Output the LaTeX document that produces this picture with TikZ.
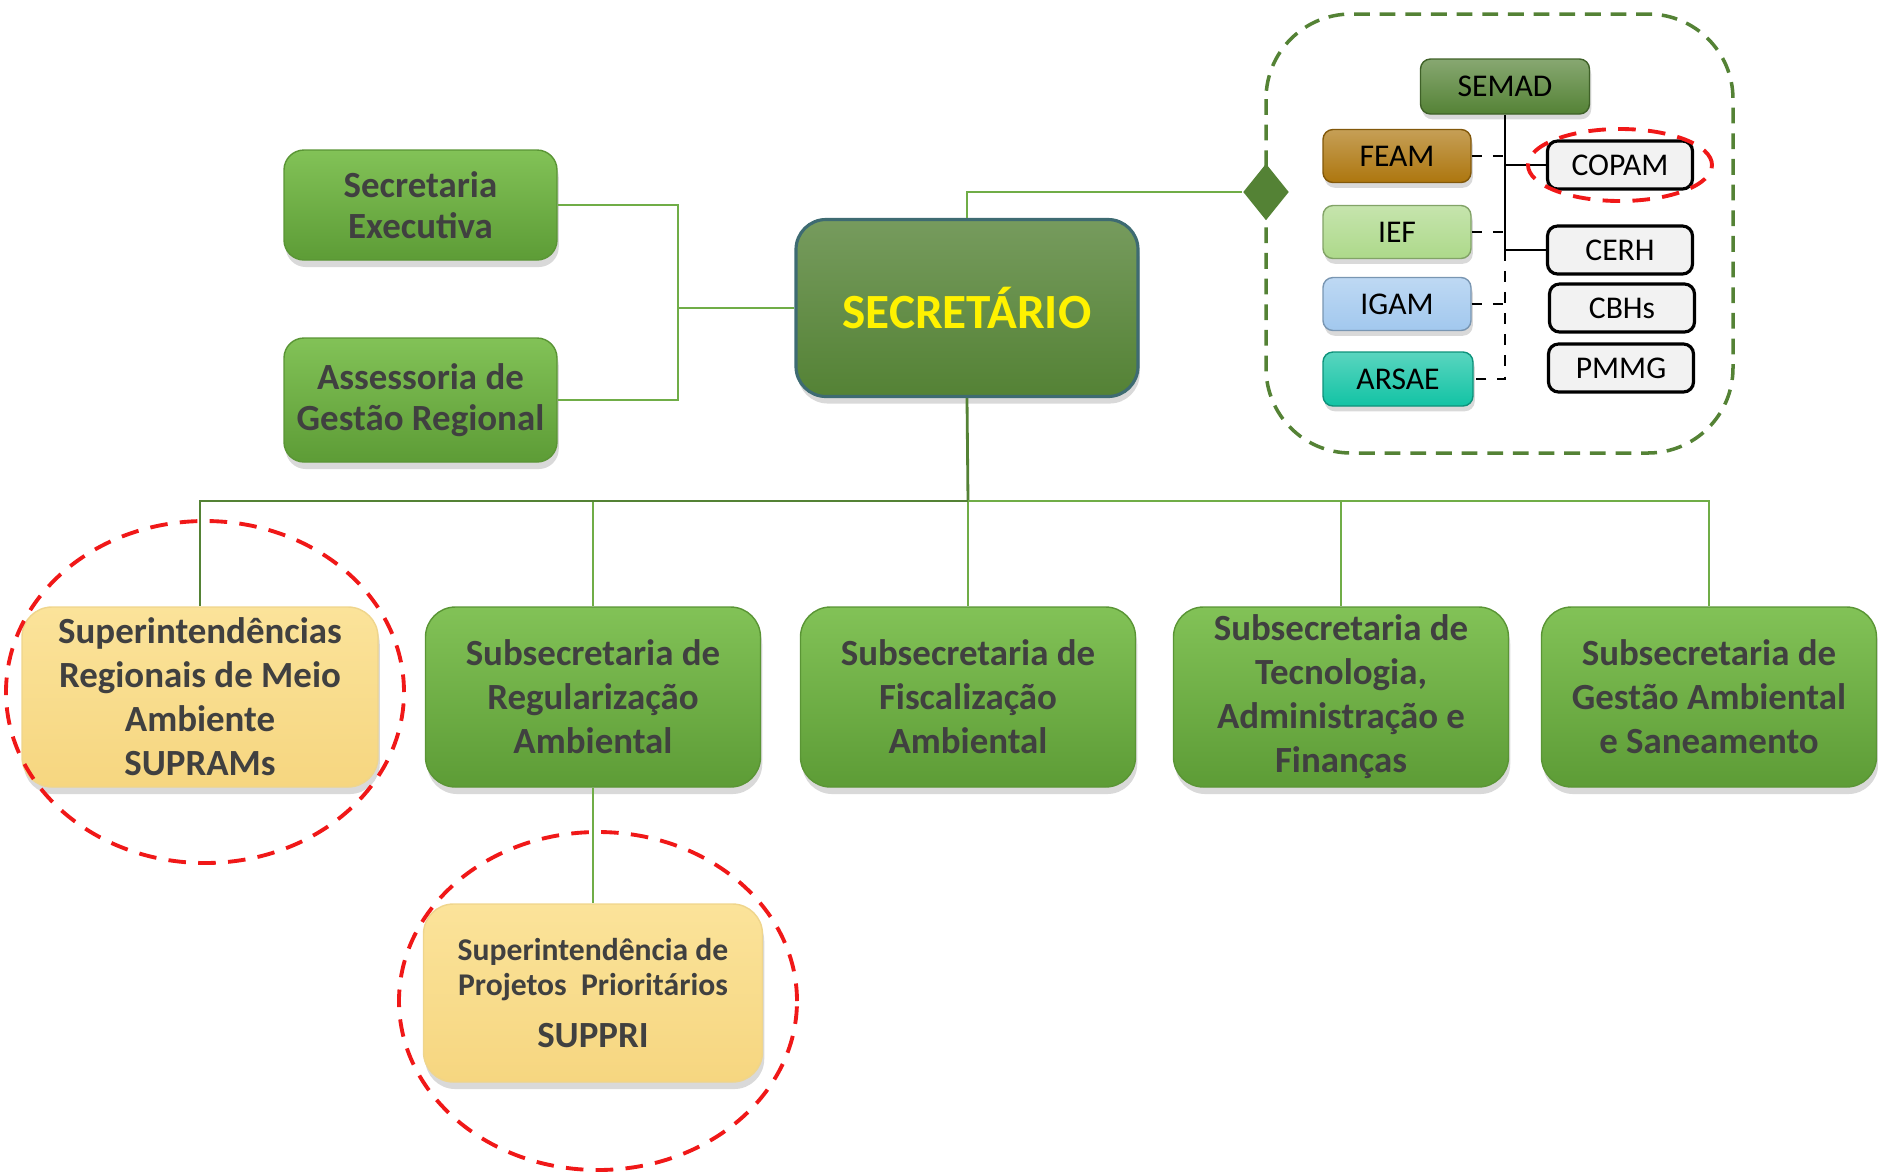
\documentclass[tikz,border=0pt]{standalone}
\usepackage{fontspec}
\setmainfont{Carlito}
\usepackage{tikz}
\usetikzlibrary{shapes.geometric,shadows}

\definecolor{gTop}{HTML}{82C257}
\definecolor{gBot}{HTML}{5D9C36}
\definecolor{gEdge}{HTML}{5A9535}
\definecolor{gDark}{HTML}{548235}
\definecolor{gLine}{HTML}{70AD47}
\definecolor{txtGray}{HTML}{404040}
\definecolor{yTop}{HTML}{FBE39A}
\definecolor{yBot}{HTML}{F6D680}
\definecolor{yEdge}{HTML}{EFD58C}
\definecolor{redDash}{HTML}{F01818}
\definecolor{feamCol}{HTML}{AD760E}
\definecolor{iefCol}{HTML}{ADD98A}
\definecolor{igamCol}{HTML}{A2C8EE}
\definecolor{arsaeCol}{HTML}{12C3A4}
\definecolor{bossEdge}{HTML}{3E6B72}

\begin{document}
\begin{tikzpicture}
        % 样式
        [GBox/.style={rectangle, rounded corners=3mm, top color=gTop, bottom color=gBot, draw=gEdge, drop shadow={opacity=0.3, shadow xshift=0.5pt, shadow yshift=-2pt}, text=txtGray, align=center, inner sep=0pt, minimum width=3.35cm, minimum height=1.8cm, font=\fontsize{10.5}{12.5}\selectfont\bfseries},
        SideBox/.style={GBox, rounded corners=2mm, minimum width=2.73cm, minimum height=1.10cm, font=\fontsize{10.5}{11.5}\selectfont\bfseries},
        YBox/.style={GBox, top color=yTop, bottom color=yBot, draw=yEdge},
        BossBox/.style={rectangle, rounded corners=3mm, top color=gDark!80!white, bottom color=gDark, draw=bossEdge, line width=0.9pt, drop shadow={opacity=0.3, shadow xshift=0.5pt, shadow yshift=-2pt}, text=yellow, inner sep=0pt, minimum width=3.42cm, minimum height=1.77cm, font=\fontsize{14}{16}\selectfont\bfseries},
        OrgBox/.style={rectangle, rounded corners=1mm, draw=#1!75!black, top color=#1!70!white, bottom color=#1, drop shadow={opacity=0.3, shadow xshift=0.5pt, shadow yshift=-1.5pt}, inner sep=0pt, minimum width=1.48cm, minimum height=0.53cm, font=\fontsize{9}{10.8}\selectfont},
        CouncilBox/.style={rectangle, rounded corners=1mm, draw=black, fill=black!5, line width=0.9pt, inner sep=0pt, minimum width=1.45cm, minimum height=0.48cm, font=\fontsize{9}{10.8}\selectfont},
        LinkLine/.style={draw=gLine, line width=0.7pt},
        BusLine/.style={draw=gDark, line width=0.8pt},
        RedRing/.style={draw=redDash, line width=1.1pt, dash pattern=on 5pt off 3.5pt},
        TieLine/.style={draw=black, line width=0.8pt}]

        \useasboundingbox (0,0) rectangle (18.78,-11.74);

        % 虚线框(SEMAD 系统)
        \draw[gDark, line width=1pt, dash pattern=on 4.5pt off 2.8pt, rounded corners=8.5mm]
            (12.66,-0.14) rectangle (17.33,-4.53);

        % 上层结点
        \node[SideBox] (secexec) at (4.205,-2.05) {Secretaria\\Executiva};
        \node[SideBox, minimum height=1.24cm] (assess) at (4.205,-4.00) {Assessoria de\\Gestão Regional};
        \node[BossBox] (boss) at (9.67,-3.08) {SECRETÁRIO};
        \node[diamond, fill=gDark, inner sep=0pt, minimum width=0.46cm, minimum height=0.57cm] (diam) at (12.66,-1.92) {};

        % SEMAD 及附属机构
        \node[OrgBox=gDark, minimum width=1.69cm, minimum height=0.55cm] (semad) at (15.05,-0.865) {SEMAD};
        \node[OrgBox=feamCol] (feam) at (13.97,-1.56) {FEAM};
        \node[OrgBox=iefCol] (ief) at (13.97,-2.32) {IEF};
        \node[OrgBox=igamCol] (igam) at (13.97,-3.04) {IGAM};
        \node[OrgBox=arsaeCol, minimum width=1.50cm, minimum height=0.54cm] (arsae) at (13.98,-3.79) {ARSAE};

        % 委员会
        \node[CouncilBox] (copam) at (16.20,-1.65) {COPAM};
        \node[CouncilBox] (cerh) at (16.20,-2.50) {CERH};
        \node[CouncilBox] (cbhs) at (16.22,-3.08) {CBHs};
        \node[CouncilBox] (pmmg) at (16.21,-3.68) {PMMG};

        % 下层结点
        \node[YBox, minimum width=3.56cm] (supram) at (2.00,-6.97) {Superintendências\\Regionais de Meio\\Ambiente\\SUPRAMs};
        \node[GBox] (reg) at (5.93,-6.97) {Subsecretaria de\\Regularização\\Ambiental};
        \node[GBox] (fisc) at (9.68,-6.97) {Subsecretaria de\\Fiscalização\\Ambiental};
        \node[GBox] (tec) at (13.41,-6.97) {Subsecretaria de\\Tecnologia,\\Administração e\\Finanças};
        \node[GBox] (gest) at (17.09,-6.97) {Subsecretaria de\\Gestão Ambiental\\e Saneamento};
        \node[YBox, minimum width=3.39cm, minimum height=1.78cm, font=\fontsize{9}{10}\selectfont\bfseries] (suppri) at (5.93,-9.93)
            {Superintendência de\\Projetos~~Prioritários\\[5pt]{\fontsize{10.5}{12}\selectfont SUPPRI}};

        % 连线
        \coordinate (jl) at (6.78,-3.08);
        \draw[LinkLine] (secexec.east) -| (jl) -- (boss.west);
        \draw[LinkLine] (assess.east) -| (jl);
        \draw[LinkLine] (boss.north) |- (diam.west);

        \coordinate (bus) at (9.68,-5.01);
        \draw[BusLine] (boss.south) -- (bus);
        \foreach \n in {supram,reg,fisc,tec,gest}
            \draw[LinkLine] (bus) -| (\n.north);
        \draw[BusLine] (bus) -| (supram.north);
        \draw[LinkLine] (reg.south) -- (suppri.north);

        % SEMAD 连线
        \coordinate (sv) at (15.05,-2.50);
        \draw[TieLine] (semad.south) -- (sv) -- (cerh.west);
        \draw[TieLine] (semad.south |- copam.west) -- (copam.west);
        \draw[TieLine, dashed] (sv) -- (semad.south |- arsae.east) -- (arsae.east);
        \foreach \n in {feam,ief,igam}
            \draw[TieLine, dashed] (\n.east) -- (semad.south |- \n.east);

        % 红色虚线圈
        \draw[RedRing] (copam.center) ellipse (0.92 and 0.36);
        \draw[RedRing] (2.05,-6.92) ellipse (1.99 and 1.71);
        \draw[RedRing] (5.98,-10.01) ellipse (1.99 and 1.69);
    \end{tikzpicture}
\end{document}
